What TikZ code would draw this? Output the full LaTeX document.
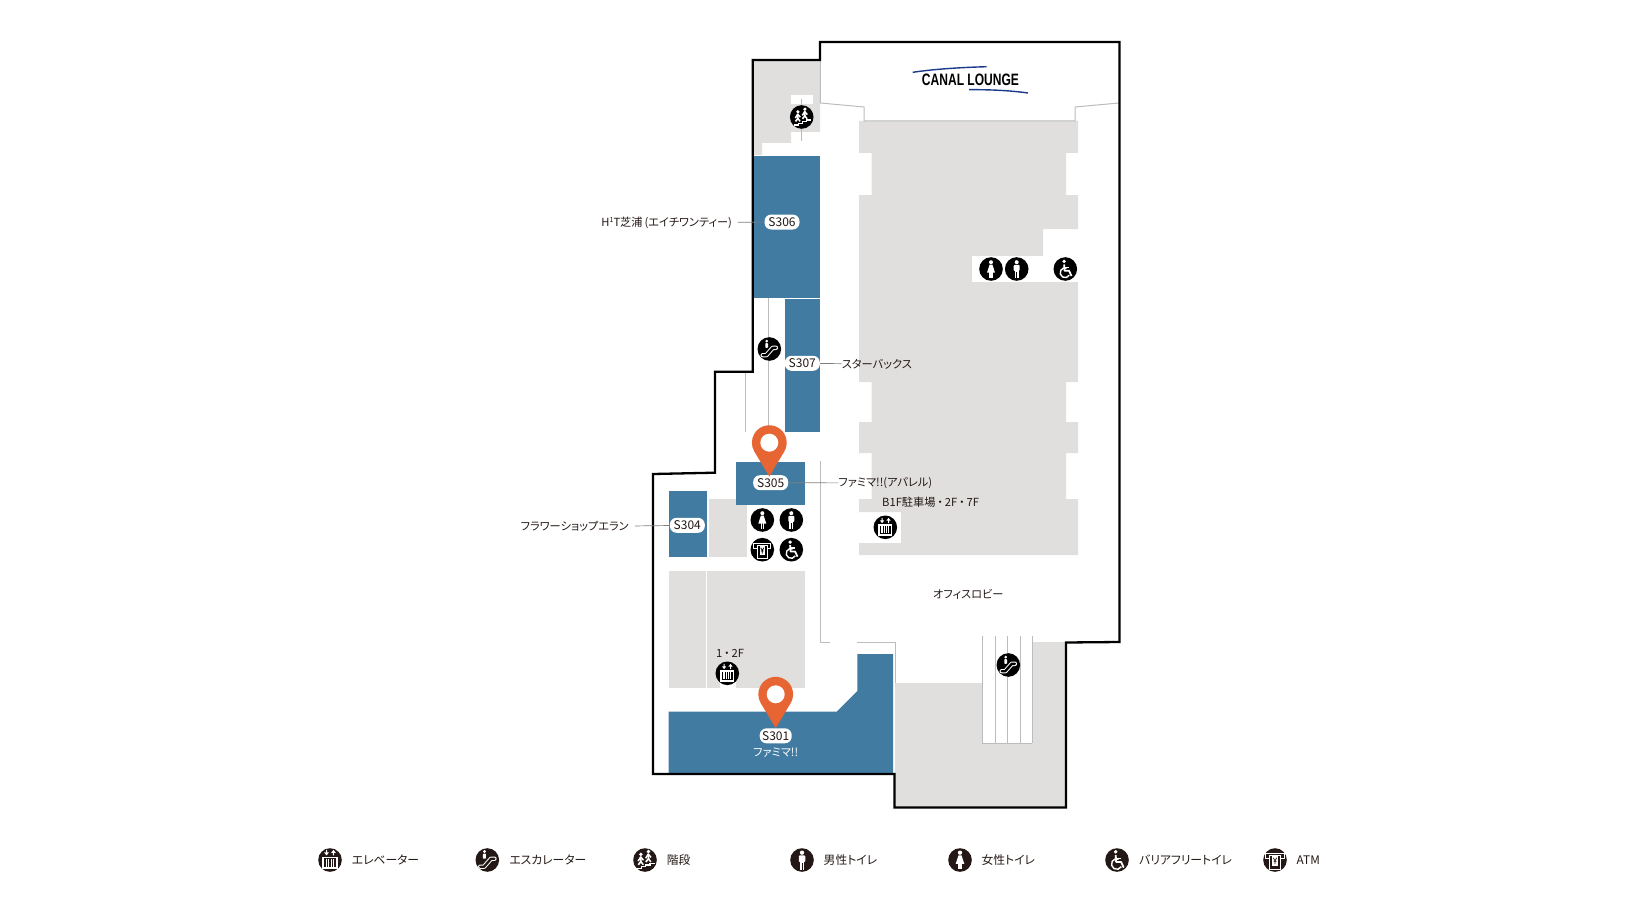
\documentclass[tikz,border=0pt]{standalone}
\usepackage{fontspec}
\setmainfont[RawFeature=+palt]{Noto Sans CJK JP}
\newfontfamily\logofont{Liberation Sans}
\colorlet{iconcolor}{black}
\definecolor{graycolor}{HTML}{E0DFDE}
\definecolor{shopcolor}{HTML}{427BA2}
\definecolor{pincolor}{HTML}{E66533}
\definecolor{linecolor}{HTML}{BBBCBC}
\definecolor{logocolor}{HTML}{1B3A8C}
\definecolor{inkcolor}{HTML}{231815}

\begin{document}
\begin{tikzpicture}
  [x=1pt,y=-1pt,line cap=butt,
   % Styles
   shop label/.style={fill=white,rounded corners=6.8pt,minimum width=35pt,minimum height=15pt,
     inner sep=0pt,font=\fontsize{12}{14}\selectfont,text=inkcolor},
   map text/.style={inner ysep=0pt,inner xsep=0pt,yshift=-.7pt,font=\fontsize{11.2}{13}\selectfont,text=inkcolor},
   legend text/.style={inner sep=0pt,anchor=west,text=inkcolor,font=\fontsize{11.8}{13}\selectfont},
   thin gray/.style={draw=linecolor,line width=1pt},
   leader/.style={draw=gray,line width=.7pt},
   pics/badge disc/.style={code={\fill[iconcolor] (0,0) circle [radius=11.8];}},
   % Icons, drawn on a disc of radius 11.8
   pics/elevator/.style={code={
     \pic {badge disc};
     \fill[white] (-3.7,-9.4) rectangle (-2.7,-7) (-5.4,-7) -- (-1,-7) -- (-3.2,-4.2) -- cycle;
     \fill[white] (2.7,-4.2) rectangle (3.7,-6.6) (1,-6.6) -- (5.4,-6.6) -- (3.2,-9.4) -- cycle;
     \fill[white] (-7,-3) rectangle (7,8.2);
     \fill[iconcolor] (-5.7,-1.7) rectangle (5.7,6.9);
     \foreach \barx in {-3.4,-1.1,1.1,3.4}
       \fill[white] (\barx-.6,-.9) rectangle (\barx+.6,6.1);
   }},
   pics/escalator/.style={code={
     \pic {badge disc};
     \draw[white,line width=4.4pt,line join=round,line cap=round] (-6.6,6.2) -- (-3,6.2) -- (3.5,-1.2) -- (6.6,-1.2);
     \draw[iconcolor,line width=2.4pt,line join=round,line cap=round] (-6.6,6.2) -- (-3,6.2) -- (3.5,-1.2) -- (6.6,-1.2);
     \fill[white] (-2.6,-7.8) circle [radius=1.5];
     \fill[white,rounded corners=.6pt] (-4,-5.8) rectangle (-1.3,-1.2);
   }},
   pics/stairs/.style={code={
     \pic {badge disc};
     \foreach \stepx/\stepy in {-3.8/-.6,3.2/-3.2} {
       \fill[white] (\stepx,\stepy-4.6) circle [radius=1.8];
       \draw[white,line width=1.5pt,line join=round] (\stepx-2.6,\stepy+1.6) -- (\stepx-.2,\stepy-2.2) -- (\stepx+2.4,\stepy+.8);
       \draw[white,line width=1.7pt,line join=round] (\stepx-.2,\stepy-2.4) -- (\stepx,\stepy+2) -- (\stepx-2.4,\stepy+5);
       \draw[white,line width=1.5pt] (\stepx,\stepy+2) -- (\stepx+2.2,\stepy+5);
     }
     \draw[white,line width=1.1pt] (-8,8) -- (-3.6,8) -- (-3.6,6.4) -- (0.4,6.4) -- (0.4,4.6) -- (4.6,4.6) -- (4.6,3) -- (9,3);
   }},
   pics/male/.style={code={
     \pic {badge disc};
     \fill[white] (0,-6.8) circle [radius=2];
     \fill[white,rounded corners=1pt] (-3,-4.2) rectangle (3,2);
     \fill[white] (-2,1) rectangle (2,9);
     \draw[iconcolor,line width=.5pt] (0,3) -- (0,9);
   }},
   pics/female/.style={code={
     \pic {badge disc};
     \fill[white] (0,-6.8) circle [radius=2];
     \fill[white] (-1.4,-4.4) -- (1.4,-4.4) -- (4,3.6) -- (-4,3.6) -- cycle;
     \fill[white] (-1.8,3) rectangle (-.3,8.6);
     \fill[white] (.3,3) rectangle (1.8,8.6);
   }},
   pics/accessible/.style={code={
     \pic {badge disc};
     \fill[white] (-1.2,-7.6) circle [radius=1.8];
     \draw[white,line width=1.8pt,line join=round] (-1.2,-4.5) -- (-.8,1.8) -- (3.8,1.8) -- (6.2,7);
     \draw[white,line width=1.4pt] (-1.2,-1.6) -- (3.4,-1.6);
     \draw[white,line width=1.4pt] (4,6.2) arc [start angle=30,end angle=290,radius=4.9];
   }},
   pics/atm/.style={code={
     \pic {badge disc};
     \draw[white,line width=1pt,line join=round] (-5,-1.6) -- (-8.4,-1.6) -- (-8.4,-5.8) -- (8.4,-5.8) -- (8.4,-1.6) -- (5,-1.6);
     \draw[white,line width=1pt] (-5,-3.8) rectangle (5,8.6);
     \fill[white] (-2.8,-3.4) rectangle (2.8,5.2);
     \draw[iconcolor,line width=.7pt] (-1.6,-2) -- (0,.6) -- (1.6,-2) (0,.6) -- (0,3.8) (-1.4,1.2) -- (1.4,1.2);
   }},
   pics/map pin/.style={code={
     \fill[pincolor] (0,33.8) -- (14.9,8.9) arc [start angle=31,end angle=-211,radius=17.4] -- cycle;
     \fill[white] (0,0) circle [radius=9];
   }}]

  \useasboundingbox (0,0) rectangle (1641,915);

  % The gray floor areas
  \fill[graycolor] (753,60) -- (820,60) -- (820,132) -- (791,132) -- (791,143) -- (762,143) -- (762,155) -- (753,155) -- cycle;
  \fill[white] (791,95) rectangle (813,104);
  \fill[graycolor] (859,121) -- (1078,121) -- (1078,153) -- (1066,153) -- (1066,195) -- (1078,195) -- (1078,229)
    -- (1043,229) -- (1043,256) -- (972,256) -- (972,282) -- (1078,282) -- (1078,382) -- (1066,382) -- (1066,422)
    -- (1078,422) -- (1078,453) -- (1066,453) -- (1066,499) -- (1078,499) -- (1078,555) -- (859,555) -- (859,543)
    -- (901,543) -- (901,512) -- (859,512) -- (859,499) -- (871.5,499) -- (871.5,453) -- (859,453) -- (859,422)
    -- (871.5,422) -- (871.5,382) -- (859,382) -- (859,282) -- (859,229) -- (859,195) -- (871.5,195) -- (871.5,153)
    -- (859,153) -- cycle;
  \fill[white] (972,256) rectangle (1078,282);
  \fill[graycolor] (709,499) rectangle (747,557);
  \fill[graycolor] (668.7,571.3) rectangle (705.7,688.3);
  \fill[graycolor] (707,571.3) rectangle (804.7,688.3);
  \fill[white] (720,680) rectangle (736,689);
  \fill[graycolor] (895,683) -- (982.3,683) -- (982.3,743.3) -- (1032.3,743.3) -- (1032.3,642) -- (1066,642)
    -- (1066,807) -- (895,807) -- cycle;

  % The thin gray lines
  \draw[thin gray] (820.3,60) -- (820.3,103) -- (864,107) -- (864,121) -- (1075,121) -- (1075,107) -- (1119,103);
  \draw[thin gray] (801.7,99) -- (801.7,141);
  \draw[thin gray] (745.7,372) -- (745.7,431.7);
  \draw[thin gray] (768.3,298) -- (768.3,431);
  \draw[thin gray] (820.3,461) -- (820.3,642.7) -- (830,642.7);
  \draw[thin gray] (857.3,642.7) -- (895,642.7) -- (895,683);
  \foreach \stairx in {982.3,995,1007.3,1020,1032.3}
    \draw[thin gray] (\stairx,636) -- (\stairx,743.3);
  \draw[thin gray] (982.3,743.3) -- (1032.3,743.3);

  % The shops
  \fill[shopcolor] (753.3,155.7) rectangle (819.7,297.7);
  \fill[shopcolor] (785,299) rectangle (820,431.7);
  \fill[shopcolor] (736,461.7) rectangle (805.3,505);
  \fill[shopcolor] (668.7,490.7) rectangle (707.3,557);
  \fill[shopcolor] (668.7,711.7) -- (836.7,711.7) -- (857.3,691) -- (857.3,654) -- (893,654) -- (893,773.3) -- (668.7,773.3) -- cycle;

  % The outer wall
  \draw[line width=2.3pt,line join=miter] (820,42) -- (1119.5,42) -- (1119.5,642) -- (1066,642.5) -- (1066,807.5)
    -- (894.5,807.5) -- (894.5,774) -- (653,774) -- (653,474) -- (715,472.7) -- (715,371.7) -- (752.7,371.7)
    -- (752.7,60) -- (820,60) -- cycle;

  % The logo
  \node[xscale=.73,transform shape,text=black,inner sep=0pt,font=\logofont\bfseries\fontsize{16.5}{18}\selectfont] (logo) at (970.5,80) {CANAL LOUNGE};
  \draw[logocolor,line width=1.4pt] (912.7,72.3) .. controls (935,69) and (960,67.5) .. (986.7,66.7);
  \draw[logocolor,line width=1.4pt] (969,89.7) .. controls (990,89.5) and (1010,90.5) .. (1028,93);

  % Shop numbers
  \node[shop label] (s306) at (782,222) {S306};
  \node[shop label] (s307) at (802.3,363.3) {S307};
  \node[shop label] (s305) at (770.7,482.7) {S305};
  \node[shop label] (s304) at (687.3,525.3) {S304};
  \node[shop label,minimum width=32pt] (s301) at (775.7,735.8) {S301};

  % Shop names
  \node[map text,anchor=east,inner xsep=5.5pt] (name306) at (737.7,222) {H\raisebox{.7ex}{\fontsize{7}{8}\selectfont 1}T芝浦\,(エイチワンティー)};
  \node[map text,anchor=west] (name307) at (841.7,363.3) {スターバックス};
  \node[map text,anchor=west] (name305) at (838.3,482.3) {ファミマ!!(アパレル)};
  \node[map text,anchor=east,inner xsep=6pt] (name304) at (635,526) {フラワーショップエラン};
  \node[map text,text=white] (name301) at (775.7,752.3) {ファミマ!!};
  \node[map text,anchor=west] (lift1) at (882,501.5) {B1F駐車場\,・\,2F\,・\,7F};
  \node[map text] (lift2) at (730,652.3) {1\,・\,2F};
  \node[map text] (lobby) at (968.3,594) {オフィスロビー};

  \draw[leader] (s306) -- (name306);
  \draw[leader] (s307) -- (name307);
  \draw[leader] (s305) -- (name305);
  \draw[leader] (s304) -- (name304);

  % Icons on the map
  \pic at (801.7,117) {stairs};
  \pic at (769.3,349) {escalator};
  \pic at (1008.3,665) {escalator};
  \pic at (885.3,527.3) {elevator};
  \pic at (727.3,673.3) {elevator};
  \pic at (991,269) {female};
  \pic at (1016.7,269) {male};
  \pic at (1065.3,269) {accessible};
  \pic at (762.3,520) {female};
  \pic at (791.3,520) {male};
  \pic at (762.3,549.7) {atm};
  \pic at (791.3,549.7) {accessible};

  \pic at (769.3,442.7) {map pin};
  \pic at (775.7,694.3) {map pin};

  % Legend
  \colorlet{iconcolor}{inkcolor}
  \foreach \iconx/\icontype/\textx/\icontext in
    {330/elevator/351.7/エレベーター,
     487.3/escalator/509.3/エスカレーター,
     645/stairs/666.7/階段,
     802/male/823.5/男性トイレ,
     960/female/981.4/女性トイレ,
     1117/accessible/1139/バリアフリートイレ,
     1275/atm/1296.5/ATM}
  {
    \pic[scale=1.08] at (\iconx,860) {\icontype};
    \node[legend text] (legend\icontype) at (\textx,860) {\icontext};
  }
\end{tikzpicture}
\end{document}
